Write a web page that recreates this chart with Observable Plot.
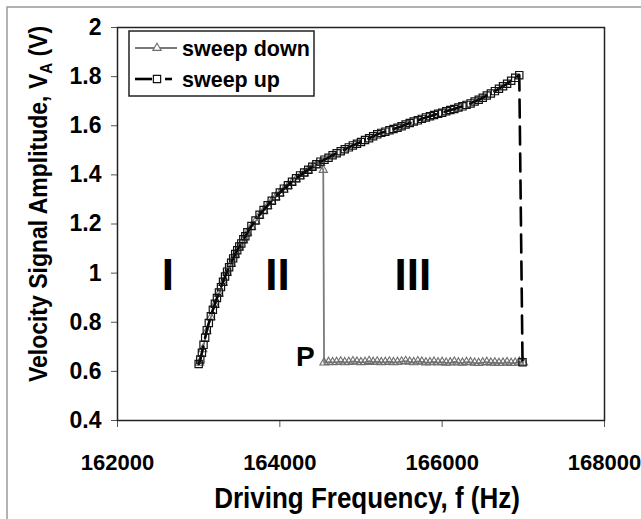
<!DOCTYPE html>
<html>
<head>
<meta charset="utf-8">
<script src="https://cdn.jsdelivr.net/npm/d3@7"></script>
<script src="https://cdn.jsdelivr.net/npm/@observablehq/plot@0.6"></script>
<style>
  html, body { margin: 0; padding: 0; background: white; }
  #chart { width: 641px; height: 519px; overflow: hidden; }
</style>
</head>
<body>
<div id="chart"></div>
<script>
// ---- Data ----
const xTicks = [162000, 164000, 166000, 168000];
const yTicks = [0.4, 0.6, 0.8, 1, 1.2, 1.4, 1.6, 1.8, 2];

// sweep up (squares, black)
const upF = [163000,163020,163040,163060,163080,163100,163125,163150,163175,163200,163225,163250,163275,163300,163325,163350,163375,163400,163425,163450,163475,163500,163525,163550,163575,163600,163650,163700,163750,163800,163850,163900,163950,164000,164050,164100,164150,164200,164250,164300,164350,164400,164450,164500,164550,164600,164650,164700,164750,164800,164850,164900,164950,165000,165050,165100,165150,165200,165250,165300,165350,165400,165450,165500,165550,165600,165650,165700,165750,165800,165850,165900,165950,166000,166050,166100,166150,166200,166250,166300,166350,166400,166450,166500,166550,166600,166650,166700,166750,166800,166850,166900,166950,166990];
const upV = [0.630,0.648,0.676,0.708,0.737,0.768,0.797,0.824,0.851,0.875,0.899,0.921,0.943,0.965,0.986,1.006,1.024,1.042,1.060,1.078,1.093,1.108,1.121,1.138,1.150,1.166,1.192,1.214,1.238,1.257,1.276,1.295,1.312,1.328,1.344,1.358,1.372,1.386,1.398,1.410,1.421,1.433,1.443,1.454,1.462,1.470,1.480,1.488,1.496,1.504,1.512,1.520,1.527,1.534,1.542,1.549,1.557,1.565,1.571,1.576,1.582,1.587,1.592,1.598,1.605,1.611,1.617,1.622,1.628,1.634,1.639,1.644,1.649,1.653,1.659,1.664,1.668,1.674,1.679,1.685,1.691,1.699,1.706,1.714,1.723,1.731,1.741,1.751,1.761,1.771,1.783,1.795,1.806,0.637];

// sweep down (triangles, gray)
const downF = [167000,166950,166900,166850,166800,166750,166700,166650,166600,166550,166500,166450,166400,166350,166300,166250,166200,166150,166100,166050,166000,165950,165900,165850,165800,165750,165700,165650,165600,165550,165500,165450,165400,165350,165300,165250,165200,165150,165100,165050,165000,164950,164900,164850,164800,164750,164700,164650,164600,164545,
  164535,164500,164450,164400,164350,164300,164250,164200,164150,164100,164050,164000,163950,163900,163850,163800,163750,163700,163650,163600,163550,163500,163450,163400,163350,163300,163250,163200,163150,163100,163050,163010];
const downV = [0.636,0.639,0.635,0.634,0.637,0.635,0.634,0.636,0.635,0.638,0.636,0.634,0.635,0.637,0.638,0.635,0.636,0.639,0.636,0.635,0.638,0.636,0.639,0.637,0.636,0.639,0.641,0.637,0.639,0.642,0.640,0.638,0.637,0.640,0.638,0.637,0.640,0.638,0.642,0.638,0.637,0.639,0.641,0.638,0.637,0.640,0.638,0.637,0.638,0.636,
  1.420,1.448,1.440,1.430,1.418,1.406,1.394,1.382,1.369,1.355,1.340,1.325,1.309,1.292,1.273,1.254,1.234,1.211,1.188,1.164,1.134,1.104,1.075,1.038,1.001,0.960,0.916,0.871,0.820,0.763,0.690,0.635];

// region annotations
const regionText = ["I", "II", "III"];
const regionF = [162620, 163970, 165640];
const regionV = [0.99, 0.99, 0.99];
const pointText = ["P"];
const pointF = [164430];
const pointV = [0.66];

// ---- Build tables ----
const up = upF.map((f, i) => ({f, v: upV[i]}));
const down = downF.map((f, i) => ({f, v: downV[i]}));
const regions = regionText.map((t, i) => ({t, f: regionF[i], v: regionV[i]}));
const points = pointText.map((t, i) => ({t, f: pointF[i], v: pointV[i]}));

const FONT = "'Liberation Sans', Arial, Helvetica, sans-serif";

const plot = Plot.plot({
  width: 641,
  height: 519,
  marginLeft: 117,
  marginRight: 37,
  marginTop: 27,
  marginBottom: 99,
  style: {fontFamily: FONT, fontWeight: "bold", fontSize: "21px", color: "black", background: "white", overflow: "visible"},
  x: {domain: [162000, 168000]},
  y: {domain: [0.4, 2]},
  marks: [
    Plot.axisX({ticks: xTicks, tickFormat: d3.format("d"), tickSize: 7, tickPadding: 27, fontSize: 22, fontWeight: "bold", stroke: "#555", label: null}),
    Plot.axisY({ticks: yTicks, tickFormat: d => String(d), tickSize: 6, tickPadding: 10, fontSize: 23, fontWeight: "bold", stroke: "#555", label: null}),
    Plot.frame({stroke: "#222", strokeWidth: 1.5}),
    Plot.line(down, {x: "f", y: "v", stroke: "#7a7a7a", strokeWidth: 1.8}),
    Plot.dot(down, {x: "f", y: "v", symbol: "triangle", r: 3.1, stroke: "#6e6e6e", fill: "none", strokeWidth: 1.1}),
    Plot.line(up, {x: "f", y: "v", stroke: "black", strokeWidth: 2.6, strokeDasharray: "18,9"}),
    Plot.dot(up, {x: "f", y: "v", symbol: "square", r: 4.1, stroke: "#111", fill: "none", strokeWidth: 1.2}),
    Plot.text(regions, {x: "f", y: "v", text: "t", fontSize: 44, fontWeight: "bold", fill: "black", textAnchor: "middle", lineAnchor: "middle"}),
    Plot.text(points, {x: "f", y: "v", text: "t", fontSize: 28, fontWeight: "bold", fill: "black", textAnchor: "end", lineAnchor: "middle"})
  ]
});

document.getElementById("chart").appendChild(plot);

// ---- Decorations: outer border, axis titles, legend ----
const svg = d3.select(plot);

svg.insert("rect", ":first-child")
  .attr("x", 7).attr("y", 7).attr("width", 700).attr("height", 600)
  .attr("fill", "none").attr("stroke", "#999").attr("stroke-width", 1.5);

// x title
svg.append("text")
  .attr("transform", "translate(367,508) scale(1,1.1)")
  .attr("text-anchor", "middle")
  .attr("font-family", FONT).attr("font-weight", "bold").attr("font-size", 26)
  .attr("fill", "black")
  .text("Driving Frequency, f (Hz)");

// y title with subscript
const yt = svg.append("text")
  .attr("transform", "translate(47,204) rotate(-90) scale(1,1.13)")
  .attr("text-anchor", "middle")
  .attr("font-family", FONT).attr("font-weight", "bold").attr("font-size", 23)
  .attr("fill", "black");
yt.append("tspan").text("Velocity Signal Amplitude, V");
yt.append("tspan").attr("font-size", 15).attr("dy", 4).text("A");
yt.append("tspan").attr("dy", -4).text(" (V)");

// legend
const lg = svg.append("g").attr("text-anchor", "start");
lg.append("rect").attr("x", 129).attr("y", 31).attr("width", 185).attr("height", 65)
  .attr("fill", "white").attr("stroke", "#222").attr("stroke-width", 1.5);
lg.append("line").attr("x1", 135).attr("x2", 177).attr("y1", 48).attr("y2", 48)
  .attr("stroke", "#7a7a7a").attr("stroke-width", 1.8);
lg.append("path").attr("transform", "translate(157,48)")
  .attr("d", d3.symbol(d3.symbolTriangle, Math.PI * 3.1 * 3.1)())
  .attr("fill", "white").attr("stroke", "#6e6e6e").attr("stroke-width", 1.1);
lg.append("text").attr("x", 182).attr("y", 56).attr("text-anchor", "start")
  .attr("font-family", FONT).attr("font-weight", "bold").attr("font-size", 21.5).attr("fill", "black")
  .text("sweep down");
lg.append("line").attr("x1", 135).attr("x2", 152).attr("y1", 79).attr("y2", 79)
  .attr("stroke", "black").attr("stroke-width", 2.6);
lg.append("line").attr("x1", 165).attr("x2", 172).attr("y1", 79).attr("y2", 79)
  .attr("stroke", "black").attr("stroke-width", 2.6);
lg.append("path").attr("transform", "translate(157,79)")
  .attr("d", d3.symbol(d3.symbolSquare, Math.PI * 4.1 * 4.1)())
  .attr("fill", "white").attr("stroke", "#111").attr("stroke-width", 1.2);
lg.append("text").attr("x", 182).attr("y", 87).attr("text-anchor", "start")
  .attr("font-family", FONT).attr("font-weight", "bold").attr("font-size", 21.5).attr("fill", "black")
  .text("sweep up");
</script>
</body>
</html>
